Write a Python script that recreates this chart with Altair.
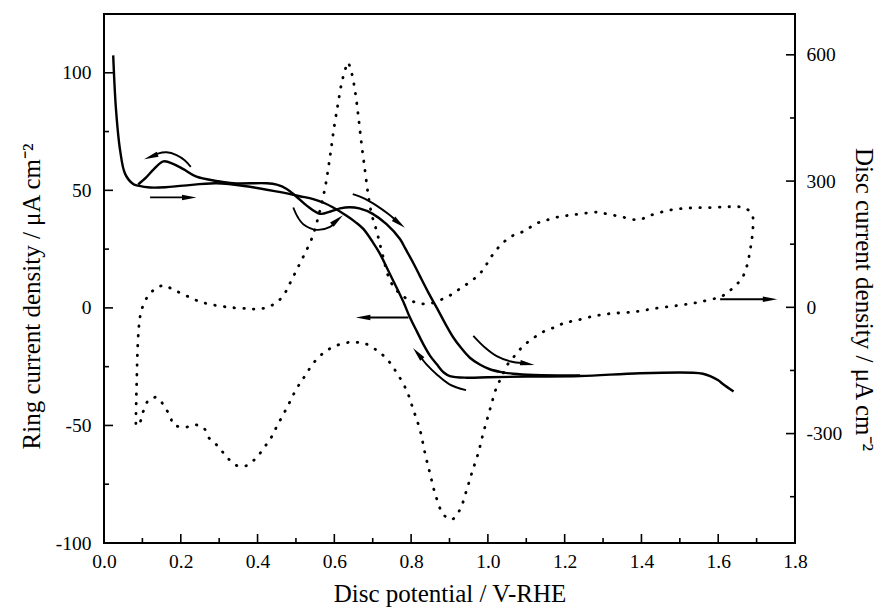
import altair as alt
import pandas as pd

# ---------------- data ----------------
# Ring current density, sweep A (initial spike, lower branch, left curve)
ringA_x = [0.024, 0.031, 0.042, 0.055, 0.076, 0.089, 0.12, 0.16, 0.207, 0.293, 0.38, 0.467, 0.51, 0.545,
           0.575, 0.597, 0.632, 0.655, 0.676, 0.70, 0.719, 0.74, 0.762, 0.78, 0.797, 0.815, 0.832, 0.85,
           0.867, 0.885, 0.901, 0.945, 1.0, 1.1, 1.24, 1.396, 1.535, 1.56, 1.579, 1.60, 1.613, 1.64]
ringA_y = [107.4, 85, 67, 57, 52.7, 52, 51.2, 51.3, 52, 53, 51.5, 49, 47.5, 46.3,
           44.5, 42.7, 39.2, 36.5, 33.5, 28, 23, 16, 8.7, 2.5, -4.1, -10, -15.5, -20.5,
           -24, -27.5, -29, -29.7, -29.5, -29.2, -29, -27.8, -27.6, -28, -29, -30.8, -32.5, -35.6]
# Ring current density, sweep B (peak branch, dip, right curve)
ringB_x = [0.089, 0.11, 0.13, 0.155, 0.18, 0.207, 0.241, 0.293, 0.337, 0.424, 0.45, 0.476, 0.50, 0.528,
           0.563, 0.59, 0.615, 0.64, 0.665, 0.70, 0.736, 0.771, 0.784, 0.806, 0.823, 0.845, 0.867, 0.89,
           0.91, 0.93, 0.953, 0.98, 1.005, 1.035, 1.066, 1.12, 1.24]
ringB_y = [52.5, 55.5, 59, 62.3, 61.3, 59, 55.8, 54, 53, 53, 52.4, 50.6, 47.5, 43.5,
           40, 41, 42.3, 42.8, 42.3, 40, 35.6, 29.3, 25.5, 19, 13.5, 6.5, 0, -7,
           -12.6, -17, -21.2, -24.2, -26.1, -27.3, -28, -28.5, -28.7]

# Disc current density (right axis), one closed loop
disc_x = [0.083, 0.084, 0.0855, 0.087, 0.09, 0.094, 0.098, 0.109, 0.128, 0.155, 0.18, 0.209, 0.237, 0.263,
          0.318, 0.372, 0.402, 0.428, 0.454, 0.474, 0.487, 0.502, 0.52, 0.541, 0.558, 0.576, 0.589, 0.6,
          0.61, 0.619, 0.628, 0.635, 0.645, 0.654, 0.662, 0.671, 0.68, 0.688, 0.697, 0.71, 0.723, 0.745,
          0.771, 0.797, 0.823, 0.849, 0.875, 0.901, 0.927, 0.953, 0.979, 0.997, 1.014, 1.04, 1.066, 1.097,
          1.123, 1.149, 1.179, 1.205, 1.24, 1.283, 1.31, 1.353, 1.392, 1.422, 1.474, 1.526, 1.579, 1.631,
          1.67, 1.689, 1.689, 1.683, 1.674, 1.661, 1.639, 1.613, 1.553, 1.5, 1.44, 1.379, 1.318, 1.275,
          1.231, 1.2, 1.175, 1.147, 1.12, 1.092, 1.069, 1.049, 1.035, 1.023, 1.005, 0.988, 0.975, 0.958,
          0.945, 0.927, 0.906, 0.884, 0.862, 0.849, 0.836, 0.823, 0.806, 0.788, 0.758, 0.736, 0.71, 0.68,
          0.655, 0.632, 0.597, 0.571, 0.545, 0.525, 0.51, 0.493, 0.48, 0.465, 0.45, 0.437, 0.419, 0.398,
          0.372, 0.346, 0.32, 0.298, 0.274, 0.26, 0.237, 0.211, 0.18, 0.174, 0.159, 0.137, 0.115, 0.102,
          0.094, 0.085]
disc_y = [-276, -222, -167, -111, -56, -22, -6, 19, 40, 52, 42, 30, 18, 10,
          1, -3, -4, 1, 15, 38, 62, 89, 122, 163, 214, 285, 360, 431,
          486, 533, 564, 582, 557, 514, 458, 387, 324, 269, 222, 182, 135, 64,
          32, 17, 9, 9, 17, 28, 44, 60, 80, 103, 127, 154, 171, 182,
          198, 206, 214, 218, 222, 226, 222, 214, 208, 218, 231, 236, 237, 239,
          236, 218, 174, 135, 96, 68, 47, 28, 13, 5, -2, -11, -15, -21,
          -31, -37, -47, -57, -72, -92, -116, -139, -167, -189, -244, -299, -346, -394,
          -433, -481, -504, -492, -441, -394, -346, -291, -244, -197, -149, -122, -102, -86,
          -83, -84, -94, -109, -133, -161, -181, -208, -232, -258, -283, -307, -331, -356,
          -376, -376, -356, -331, -311, -287, -279, -285, -278, -263, -238, -214, -222, -248,
          -272, -277]

# Sweep-direction arrows (ring-axis coordinates)
arrow_id = [1, 1, 2, 2, 2, 2, 2, 2, 3, 3, 3, 3, 3, 3, 4, 4, 4, 4, 4, 5, 5, 6, 6, 6, 6, 6, 7, 7, 7, 7, 7, 8, 8]
arrow_x = [0.12, 0.212, 0.226, 0.21, 0.189, 0.163, 0.14, 0.132, 0.493, 0.505, 0.519, 0.554, 0.589, 0.6,
           0.648, 0.68, 0.71, 0.74, 0.76, 0.793, 0.69, 0.962, 0.99, 1.023, 1.06, 1.09,
           0.943, 0.9, 0.867, 0.84, 0.825, 1.605, 1.72]
arrow_y = [47, 47, 60, 62.8, 65, 66.2, 65.6, 65, 42.7, 38.5, 35.6, 33.2, 34.5, 36,
           48.4, 46.4, 43.5, 40, 37.3, -4.1, -4.1, -11.9, -16.5, -20.5, -22.8, -23.5,
           -35, -32.5, -28.3, -24, -21, 3.7, 3.7]
head_x = [0.222, 0.122, 0.608, 0.769, 0.675, 1.103, 0.817, 1.735]
head_y = [47, 64.3, 37.4, 36.0, -4.1, -23.8, -19.4, 3.7]
head_angle = [90, 250, 50, 128, 270, 100, 320, 90]

# Tick values
x_labels = [0.0, 0.2, 0.4, 0.6, 0.8, 1.0, 1.2, 1.4, 1.6, 1.8]
x_minor = [0.1, 0.3, 0.5, 0.7, 0.9, 1.1, 1.3, 1.5, 1.7]
yl_labels = [-100, -50, 0, 50, 100]
yl_minor = [-75, -25, 25, 75]
yr_labels = [-300, 0, 300, 600]
yr_minor = [-450, -150, 150, 450]

# ---------------- tables ----------------
ring = pd.DataFrame({
    "x": ringA_x + ringB_x,
    "y": ringA_y + ringB_y,
    "curve": ["A"] * len(ringA_x) + ["B"] * len(ringB_x),
    "i": list(range(len(ringA_x))) + list(range(len(ringB_x))),
})
disc = pd.DataFrame({"x": disc_x, "y": disc_y, "i": range(len(disc_x))})
arrows = pd.DataFrame({"id": arrow_id, "x": arrow_x, "y": arrow_y, "i": range(len(arrow_x))})
heads = pd.DataFrame({"x": head_x, "y": head_y, "angle": head_angle})
xt_major = pd.DataFrame({"x": x_labels})
xt_minor = pd.DataFrame({"x": x_minor})
ylt_major = pd.DataFrame({"y": yl_labels})
ylt_minor = pd.DataFrame({"y": yl_minor})
yrt_major = pd.DataFrame({"y": yr_labels})
yrt_minor = pd.DataFrame({"y": yr_minor})

W, H = 691, 529
FONT = "Liberation Serif"

xs = alt.Scale(domain=[0, 1.8], nice=False, zero=False)
yls = alt.Scale(domain=[-100, 125], nice=False, zero=False)
yrs = alt.Scale(domain=[-560, 697], nice=False, zero=False)

x_axis = alt.Axis(values=x_labels, format=".1f", labelFlush=False, labelPadding=9,
                  title="Disc potential / V-RHE", titlePadding=11)
yl_axis = alt.Axis(values=yl_labels, labelExpr="'' + datum.value", labelFlush=False, labelPadding=13,
                   title="Ring current density / μA cm⁻²", titlePadding=11, titleY=282)
yr_axis = alt.Axis(values=yr_labels, labelExpr="'' + datum.value", orient="right", labelFlush=False,
                   labelPadding=11, title="Disc current density / μA cm⁻²", titlePadding=9, titleY=285)

# The axes are defined once (on the main layers); the other layers share the scales
XQ = alt.X("x:Q", scale=xs)
YL = alt.Y("y:Q", scale=yls)
YR = alt.Y("y:Q", scale=yrs)

ring_line = alt.Chart(ring).mark_line(color="black", strokeWidth=2.4, interpolate="catmull-rom").encode(
    x=alt.X("x:Q", scale=xs, axis=x_axis),
    y=alt.Y("y:Q", scale=yls, axis=yl_axis),
    detail="curve:N",
    order="i:Q",
)

arrow_lines = alt.Chart(arrows).mark_line(color="black", strokeWidth=1.9, interpolate="catmull-rom").encode(
    x=XQ, y=YL, detail="id:N", order="i:Q",
)

arrow_heads = alt.Chart(heads).mark_point(
    shape="M0,-1L0.38,1L-0.38,1Z", filled=True, color="black", opacity=1, size=210, strokeWidth=0
).encode(
    x=XQ, y=YL, angle=alt.Angle("angle:Q", scale=None),
)

tick_style = dict(color="black", strokeWidth=1.6)
xmaj = alt.Chart(xt_major).mark_rule(**tick_style).encode(x=XQ, y=alt.value(H), y2=alt.value(H - 9))
xmin = alt.Chart(xt_minor).mark_rule(**tick_style).encode(x=XQ, y=alt.value(H), y2=alt.value(H - 5))
ylmaj = alt.Chart(ylt_major).mark_rule(**tick_style).encode(y=YL, x=alt.value(0), x2=alt.value(9))
ylmin = alt.Chart(ylt_minor).mark_rule(**tick_style).encode(y=YL, x=alt.value(0), x2=alt.value(5))

left = alt.layer(ring_line, arrow_lines, arrow_heads, xmaj, xmin, ylmaj, ylmin)

disc_line = alt.Chart(disc).mark_line(
    color="black", strokeWidth=2.8, strokeDash=[0.5, 9.2], strokeCap="round", interpolate="catmull-rom"
).encode(
    x=XQ,
    y=alt.Y("y:Q", scale=yrs, axis=yr_axis),
    order="i:Q",
)
yrmaj = alt.Chart(yrt_major).mark_rule(**tick_style).encode(y=YR, x=alt.value(W), x2=alt.value(W - 9))
yrmin = alt.Chart(yrt_minor).mark_rule(**tick_style).encode(y=YR, x=alt.value(W), x2=alt.value(W - 5))

right = alt.layer(disc_line, yrmaj, yrmin)

chart = alt.layer(left, right).resolve_scale(y="independent").properties(
    width=W, height=H,
    autosize=alt.AutoSizeParams(type="none"),
    padding={"left": 96, "top": 6, "right": 86, "bottom": 64},
    background="white",
).configure_view(
    stroke="black", strokeWidth=2
).configure_axis(
    grid=False, domain=False, ticks=False,
    labelFont=FONT, titleFont=FONT, labelFontSize=19.5, titleFontSize=25,
    titleFontWeight="normal", labelColor="black", titleColor="black",
)

chart.save("out.html", embed_options={"renderer": "svg", "actions": False})
